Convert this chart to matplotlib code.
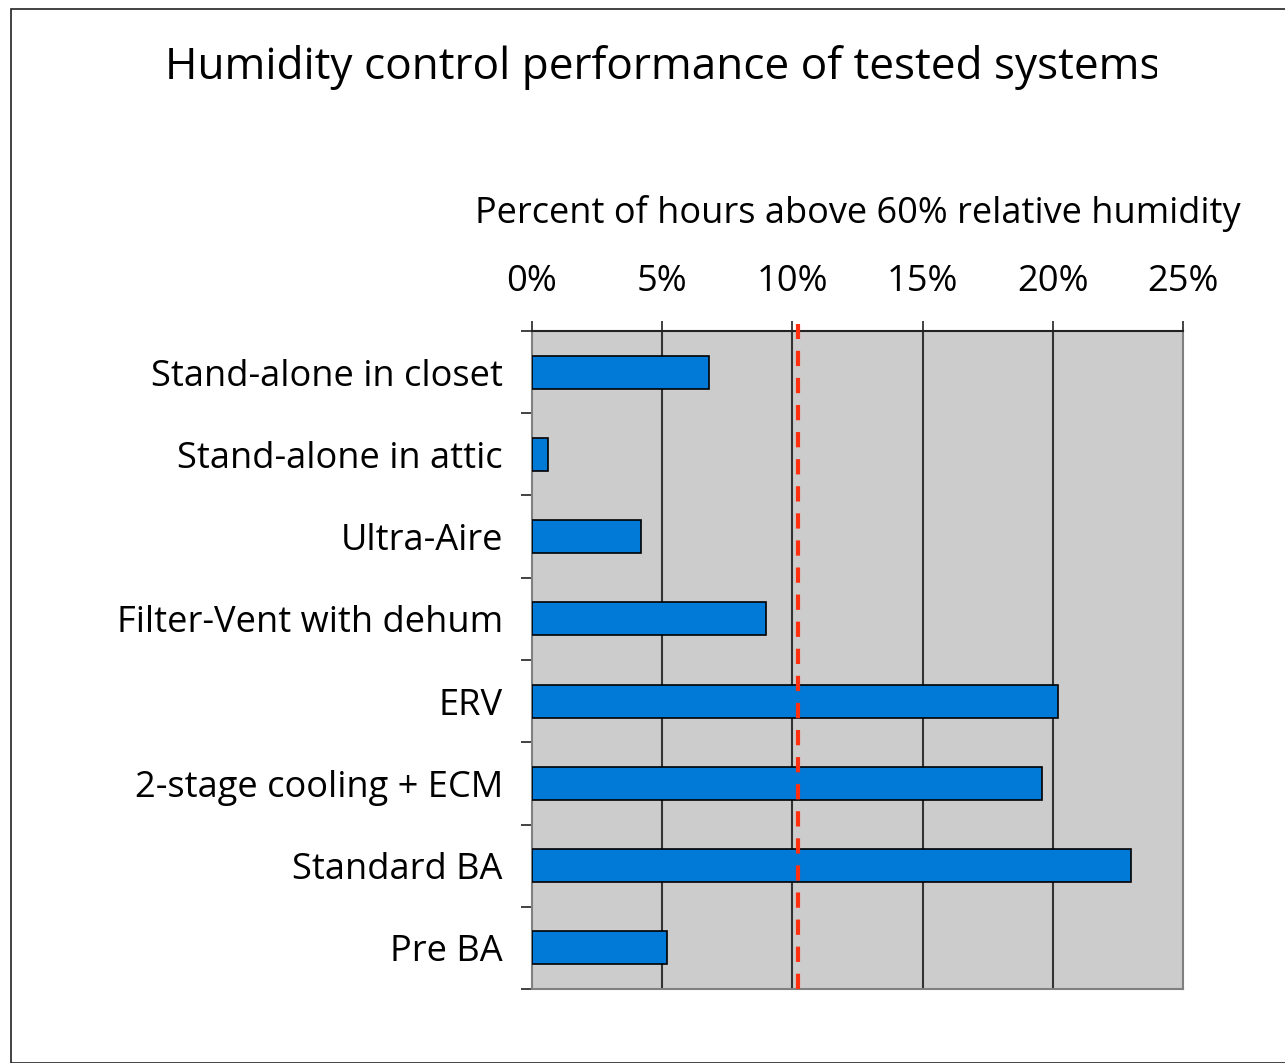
import matplotlib
matplotlib.use("Agg")
import matplotlib.pyplot as plt
from matplotlib.patches import Rectangle
from matplotlib.transforms import Bbox, TransformedBbox
import numpy as np

categories = ["Stand-alone in closet", "Stand-alone in attic", "Ultra-Aire",
              "Filter-Vent with dehum", "ERV", "2-stage cooling + ECM",
              "Standard BA", "Pre BA"]
values = [6.8, 0.6, 4.2, 9.0, 20.2, 19.6, 23.0, 5.2]
threshold = 10.2
xticks = [0, 5, 10, 15, 20, 25]
xticklabels = ["0%", "5%", "10%", "15%", "20%", "25%"]
title = "Humidity control performance of tested systems"
xlabel = "Percent of hours above 60% relative humidity"

FAM = ['Open Sans', 'DejaVu Sans']
plt.rcParams['font.family'] = FAM
plt.rcParams['lines.scale_dashes'] = False

W, H = 1285, 1063
fig = plt.figure(figsize=(W/100, H/100), dpi=100)
fig.patch.set_facecolor('white')
renderer = fig.canvas.get_renderer()


def fit_size(text, target_px, base=24):
    t = fig.text(0, 0, text, fontsize=base)
    w = t.get_window_extent(renderer).width
    t.remove()
    return base * target_px / w


lab_fs = fit_size(categories[0], 353)
xl_fs = fit_size(xlabel, 767)
ti_fs = fit_size(title, 1000)

# outer border
fig.add_artist(Rectangle((11/W, 0), 1.2, 1 - 9/H, transform=fig.transFigure,
                         fill=False, edgecolor='#222222', linewidth=1.2))

ax = fig.add_axes([532/W, 1 - 989/H, (1183-532)/W, (989-331)/H])
ax.set_facecolor('#cccccc')

n = len(categories)
y = np.arange(n)
ax.barh(y, values, height=0.4, color='#007ad6', edgecolor='black',
        linewidth=1.2, zorder=3)
ax.set_ylim(n - 0.5, -0.5)
ax.set_xlim(0, 25)

for xv in xticks[1:-1]:
    ax.axvline(xv, color='#333333', linewidth=1.5, zorder=1)

ax.axvline(threshold, ymin=0, ymax=1.01, color='#ff3010', linewidth=3,
           dashes=(11, 8.5), zorder=4, clip_on=False)

ax.xaxis.tick_top()
ax.set_xticks(xticks)
ax.set_xticklabels(xticklabels, fontsize=lab_fs)
ax.tick_params(axis='x', direction='out', length=7, width=1.2, pad=15,
               color='#222222')
ax.set_yticks(y)
ax.set_yticklabels(categories, fontsize=lab_fs)
ax.tick_params(axis='y', which='major', length=0, pad=21)
ax.set_yticks(np.arange(n + 1) - 0.5, minor=True)
ax.tick_params(axis='y', which='minor', direction='out', length=8, width=1.2,
               color='#222222')

fig.text(858/W, 1 - 213/H, xlabel, fontsize=xl_fs, ha='center', va='center')

ax.spines['top'].set_color('#222222')
ax.spines['top'].set_linewidth(1.5)
for s in ['left', 'right', 'bottom']:
    ax.spines[s].set_color('#808080')
    ax.spines[s].set_linewidth(1.5)

t = fig.text(165/W, 1 - 67/H, title, fontsize=ti_fs, ha='left', va='center')
t.set_clip_box(TransformedBbox(Bbox([[0, 0], [1157/W, 1]]), fig.transFigure))
t.set_clip_on(True)

fig.savefig("out.png", dpi=100)
